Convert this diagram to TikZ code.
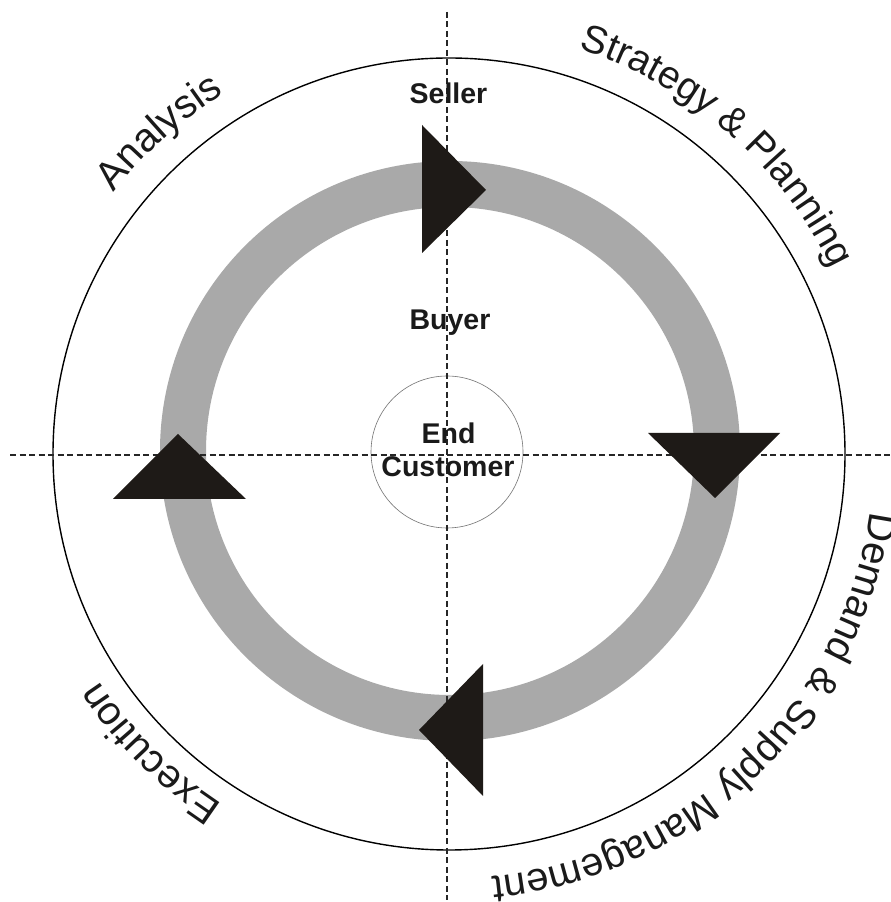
\documentclass[tikz,border=0pt]{standalone}
\usepackage{fontspec}
\setmainfont{Liberation Sans}
\usetikzlibrary{decorations.text}
\definecolor{ringgray}{HTML}{A9A9A9}
\definecolor{tri}{HTML}{1E1A17}
\definecolor{ink}{HTML}{1A1A1A}
\begin{document}
\begin{tikzpicture}[x=1pt,y=1pt,
  arrowtri/.style={fill=tri, draw=none},
  guide/.style={line width=1.2pt, draw=black!85, dash pattern=on 6pt off 3.5pt},
  lbl/.style={font=\bfseries\fontsize{28.5}{30}\selectfont, text=ink, inner sep=0pt, anchor=base},
  circ/.style={circle, inner sep=0pt, outer sep=0pt}]
\useasboundingbox (0,0) rectangle (891,902);
\fill[white] (0,0) rectangle (891,902);
\coordinate (C) at (449,448);
\coordinate (RC) at (450,451);
% outer circle
\node[circ, draw=black, line width=1.4pt, minimum size=792pt] (outer) at (C) {};
% gray ring
\node[circ, draw=ringgray, line width=46pt, minimum size=534pt] (ring) at (RC) {};
% inner circle
\node[circ, draw=black!55, line width=0.6pt, minimum size=152pt] (inner) at (447,450) {};
% guide lines
\coordinate (vt) at (447,890);
\coordinate (vb) at (447,2);
\coordinate (hl) at (10,447);
\coordinate (hr) at (891,447);
\draw[guide] (vt) -- (vb);
\draw[guide] (hl) -- (hr);
% triangles
\fill[arrowtri] (422,777) -- (422,649) -- (486,712) -- cycle;
\fill[arrowtri] (648,469) -- (780,469) -- (715,404) -- cycle;
\fill[arrowtri] (113,403) -- (246,403) -- (178,468) -- cycle;
\fill[arrowtri] (483,238) -- (483,106) -- (419,172) -- cycle;
% inner labels
\node[lbl] (seller) at (448.5,798) {Seller};
\node[lbl] (buyer) at (450,572.5) {Buyer};
\node[lbl] (endl) at (448.5,458) {End};
\node[lbl] (cust) at (448,425) {Customer};
% curved labels
\path[decorate, decoration={text along path, text align=center,
  text={|\fontsize{40}{42}\selectfont\color{ink}|Analysis}}]
  (C) ++(222:425) arc[start angle=222, end angle=42, radius=425];
\path[decorate, decoration={text along path, text align=center,
  text={|\fontsize{39}{41}\selectfont\color{ink}|Strategy {\&} Planning}}]
  (C) ++(139:425) arc[start angle=139, end angle=-41, radius=425];
\path[decorate, decoration={text along path, text align=center,
  text={|\fontsize{40}{42}\selectfont\color{ink}|Demand {\&} Supply Management}}]
  (C) ++(44:425) arc[start angle=44, end angle=-136, radius=425];
\path[decorate, decoration={text along path, text align=center,
  text={|\fontsize{40}{42}\selectfont\color{ink}|Execution}}]
  (C) ++(315:417) arc[start angle=315, end angle=135, radius=417];
\end{tikzpicture}
\end{document}
